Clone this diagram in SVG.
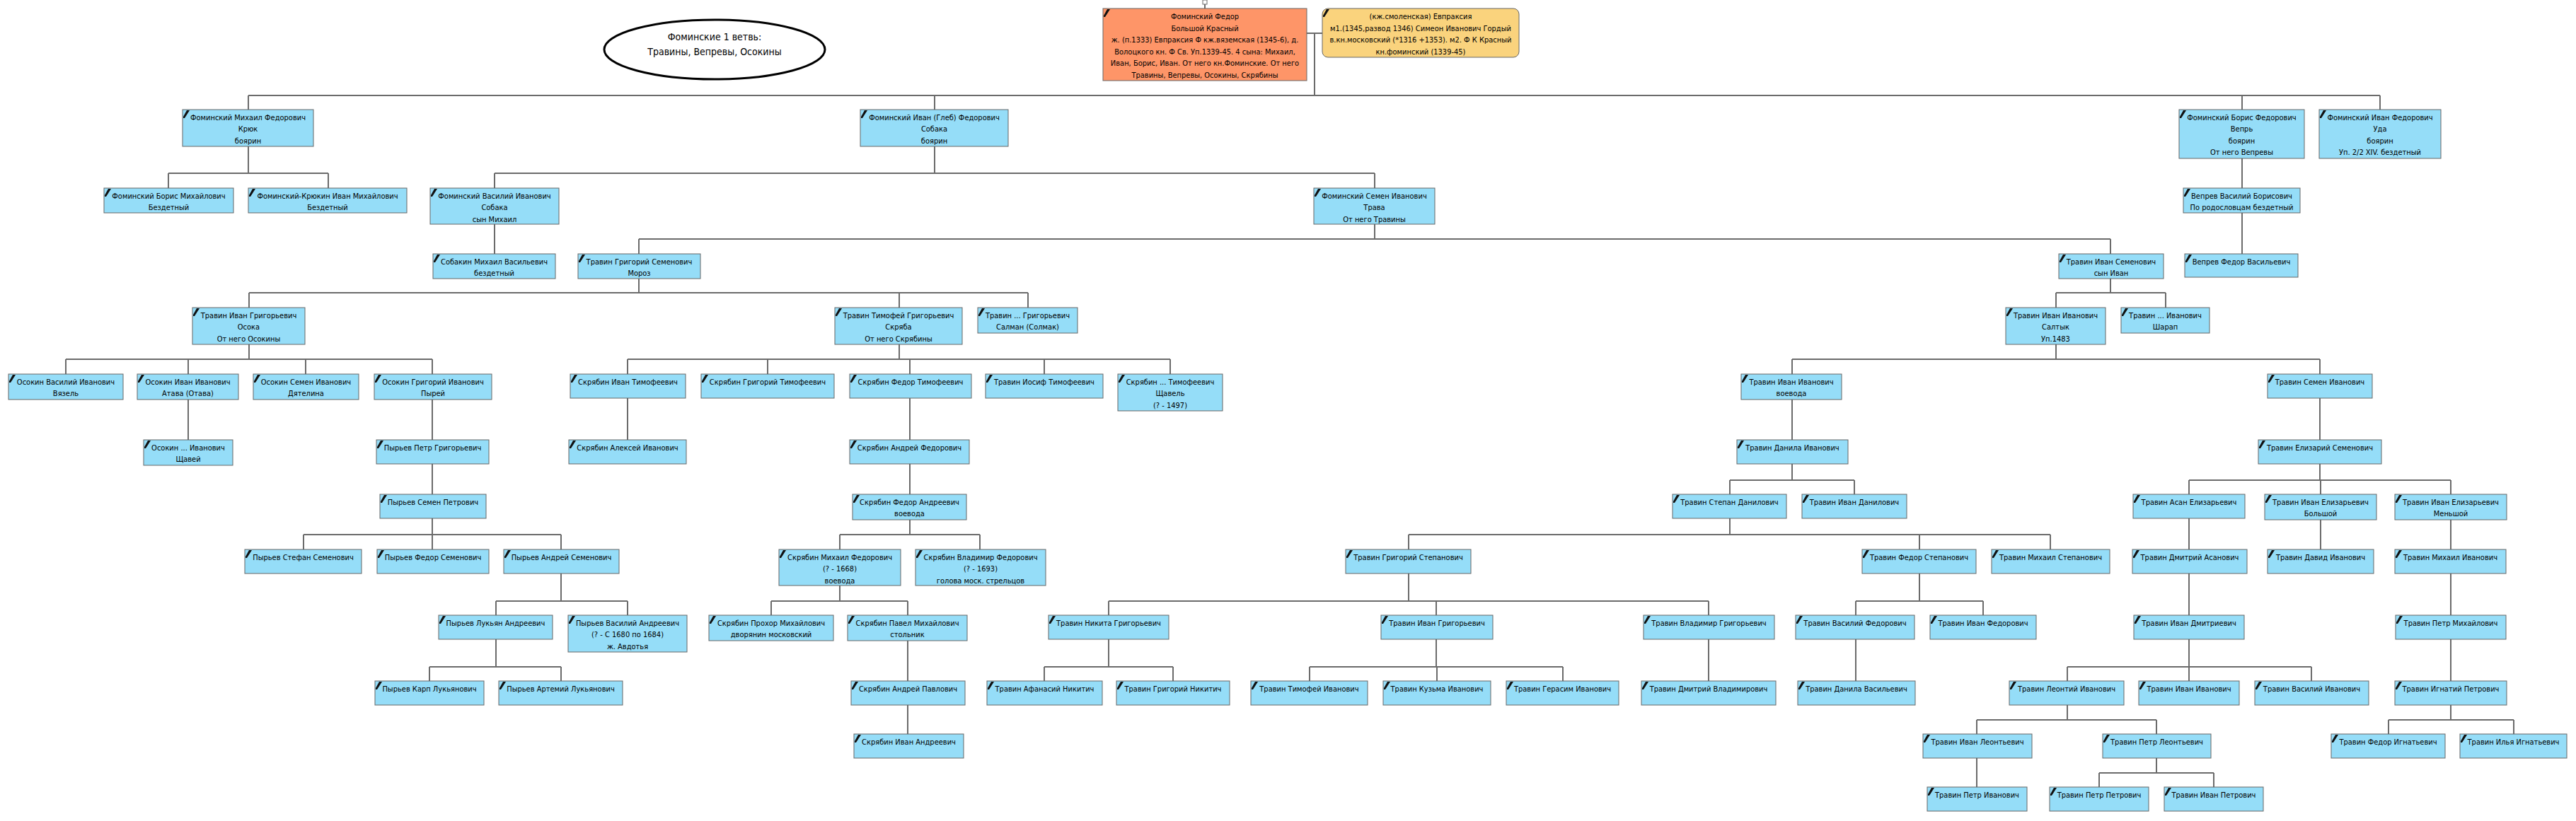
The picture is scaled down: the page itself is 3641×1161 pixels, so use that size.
<svg xmlns="http://www.w3.org/2000/svg" xmlns:xlink="http://www.w3.org/1999/xlink" width="3641" height="1161" viewBox="0 0 3641 1161">
<style>
.n rect{fill:#95DDF8;stroke:#666;stroke-width:1}
.n text,.e text{font-family:"DejaVu Sans Condensed","DejaVu Sans","Liberation Sans",sans-serif;font-stretch:condensed;font-size:11px;text-anchor:middle;fill:#000}
.e text{font-size:14px}
#root rect{fill:#FE9568}
#spouse rect{fill:#FAD37D}
#connectors path{fill:none;stroke:#6b6b6b;stroke-width:2}
</style>
<defs>
<path id="m" d="M6,1 L10,1 L3,12 L1,12 L1,10 Z" fill="#111"/>
</defs>
<rect width="3641" height="1161" fill="#fff"/>
<g class="e" id="title">
<ellipse cx="1010" cy="70" rx="156" ry="42" fill="#fff" stroke="#000" stroke-width="3"/>
<text x="1010" y="57">Фоминские 1 ветвь:<tspan x="1010" dy="21">Травины, Вепревы, Осокины</tspan></text>
</g>
<g id="connectors">
<rect x="1700" y="0" width="6" height="6" fill="#fff" stroke="#6b6b6b" stroke-width="1"/>
<path d="M1703,6 V12"/>
<path d="M1847,47 H1869 M1858,47 V135 M351,135 H3364 M351,135 V155 M1321,135 V155 M3169,135 V155 M3364,135 V155"/>
<path d="M351,207 V245 M238,245 H464 M238,245 V266 M464,245 V266"/>
<path d="M1321,207 V245 M699,245 H1943 M699,245 V266 M1943,245 V266"/>
<path d="M3169,224 V266"/>
<path d="M699,317 V359"/>
<path d="M1943,317 V338 M903,338 H2983 M903,338 V359 M2983,338 V359"/>
<path d="M3169,301 V359"/>
<path d="M903,394 V414 M352,414 H1453 M352,414 V435 M1271,414 V435 M1453,414 V435"/>
<path d="M2983,394 V414 M2906,414 H3061 M2906,414 V435 M3061,414 V435"/>
<path d="M352,487 V508 M93,508 H611 M93,508 V529 M266,508 V529 M432,508 V529 M611,508 V529"/>
<path d="M1271,487 V508 M887,508 H1654 M887,508 V529 M1085,508 V529 M1286,508 V529 M1476,508 V529 M1654,508 V529"/>
<path d="M2906,487 V508 M2533,508 H3279 M2533,508 V529 M3279,508 V529"/>
<path d="M266,565 V622 M611,565 V622 M887,563 V622 M1286,563 V622 M2533,565 V622 M3279,563 V622"/>
<path d="M611,656 V699 M1286,656 V699"/>
<path d="M2533,656 V679 M2445,679 H2621 M2445,679 V699 M2621,679 V699"/>
<path d="M3279,656 V679 M3094,679 H3464 M3094,679 V699 M3280,679 V699 M3464,679 V699"/>
<path d="M611,733 V756 M429,756 H793 M429,756 V777 M611,756 V777 M793,756 V777"/>
<path d="M1286,735 V756 M1187,756 H1385 M1187,756 V777 M1385,756 V777"/>
<path d="M2445,733 V756 M1991,756 H2898 M1991,756 V777 M2713,756 V777 M2898,756 V777"/>
<path d="M3094,733 V777 M3280,735 V777 M3464,735 V777"/>
<path d="M793,811 V850 M701,850 H887 M701,850 V870 M887,850 V870"/>
<path d="M1187,828 V850 M1090,850 H1283 M1090,850 V870 M1283,850 V870"/>
<path d="M1991,811 V850 M1567,850 H2415 M1567,850 V870 M2030,850 V870 M2415,850 V870"/>
<path d="M2713,811 V850 M2623,850 H2803 M2623,850 V870 M2803,850 V870"/>
<path d="M3094,811 V870 M3464,811 V870"/>
<path d="M701,904 V943 M607,943 H793 M607,943 V963 M793,943 V963"/>
<path d="M1283,906 V963"/>
<path d="M1567,904 V943 M1476,943 H1658 M1476,943 V963 M1658,943 V963"/>
<path d="M2030,904 V943 M1851,943 H2209 M1851,943 V963 M2031,943 V963 M2209,943 V963"/>
<path d="M2415,904 V963 M2623,904 V963"/>
<path d="M3094,904 V943 M2922,943 H3267 M2922,943 V963 M3094,943 V963 M3267,943 V963"/>
<path d="M3464,904 V963"/>
<path d="M1283,997 V1038"/>
<path d="M2922,997 V1018 M2794,1018 H3048 M2794,1018 V1038 M3048,1018 V1038"/>
<path d="M3464,997 V1018 M3376,1018 H3553 M3376,1018 V1038 M3553,1018 V1038"/>
<path d="M2794,1072 V1113"/>
<path d="M3048,1072 V1093 M2967,1093 H3129 M2967,1093 V1113 M3129,1093 V1113"/>
</g>
<g id="root" class="n" transform="translate(1559,12)"><rect width="288" height="102"/><use href="#m"/><text x="144" y="15">Фоминский Федор<tspan x="144" dy="16.5">Большой Красный</tspan><tspan x="144" dy="16.5">ж. (п.1333) Евпраксия Ф кж.вяземская (1345-6), д.</tspan><tspan x="144" dy="16.5">Волоцкого кн. Ф Св. Уп.1339-45. 4 сына: Михаил,</tspan><tspan x="144" dy="16.5">Иван, Борис, Иван. От него кн.Фоминские. От него</tspan><tspan x="144" dy="16.5">Травины, Вепревы, Осокины, Скрябины</tspan></text></g>
<g id="spouse" class="n" transform="translate(1869,12)"><rect width="278" height="69" rx="8"/><use href="#m"/><text x="139" y="15">(кж.смоленская) Евпраксия<tspan x="139" dy="16.5">м1.(1345,развод 1346) Симеон Иванович Гордый</tspan><tspan x="139" dy="16.5">в.кн.московский (*1316 +1353). м2. Ф К Красный</tspan><tspan x="139" dy="16.5">кн.фоминский (1339-45)</tspan></text></g>
<g id="n03" class="n" transform="translate(258,155)"><rect width="185" height="52"/><use href="#m"/><text x="92.5" y="14.5">Фоминский Михаил Федорович<tspan x="92.5" dy="16.5">Крюк</tspan><tspan x="92.5" dy="16.5">боярин</tspan></text></g>
<g id="n04" class="n" transform="translate(1216,155)"><rect width="209" height="52"/><use href="#m"/><text x="104.5" y="14.5">Фоминский Иван (Глеб) Федорович<tspan x="104.5" dy="16.5">Собака</tspan><tspan x="104.5" dy="16.5">боярин</tspan></text></g>
<g id="n05" class="n" transform="translate(3080,155)"><rect width="177" height="69"/><use href="#m"/><text x="88.5" y="14.5">Фоминский Борис Федорович<tspan x="88.5" dy="16.5">Вепрь</tspan><tspan x="88.5" dy="16.5">боярин</tspan><tspan x="88.5" dy="16.5">От него Вепревы</tspan></text></g>
<g id="n06" class="n" transform="translate(3278,155)"><rect width="172" height="69"/><use href="#m"/><text x="86" y="14.5">Фоминский Иван Федорович<tspan x="86" dy="16.5">Уда</tspan><tspan x="86" dy="16.5">боярин</tspan><tspan x="86" dy="16.5">Уп. 2/2 XIV. бездетный</tspan></text></g>
<g id="n07" class="n" transform="translate(147,266)"><rect width="183" height="35"/><use href="#m"/><text x="91.5" y="14.5">Фоминский Борис Михайлович<tspan x="91.5" dy="16.5">Бездетный</tspan></text></g>
<g id="n08" class="n" transform="translate(351,266)"><rect width="224" height="35"/><use href="#m"/><text x="112" y="14.5">Фоминский-Крюкин Иван Михайлович<tspan x="112" dy="16.5">Бездетный</tspan></text></g>
<g id="n09" class="n" transform="translate(608,266)"><rect width="182" height="51"/><use href="#m"/><text x="91" y="14.5">Фоминский Василий Иванович<tspan x="91" dy="16.5">Собака</tspan><tspan x="91" dy="16.5">сын Михаил</tspan></text></g>
<g id="n10" class="n" transform="translate(1857,266)"><rect width="171" height="51"/><use href="#m"/><text x="85.5" y="14.5">Фоминский Семен Иванович<tspan x="85.5" dy="16.5">Трава</tspan><tspan x="85.5" dy="16.5">От него Травины</tspan></text></g>
<g id="n11" class="n" transform="translate(3086,266)"><rect width="165" height="35"/><use href="#m"/><text x="82.5" y="14.5">Вепрев Василий Борисович<tspan x="82.5" dy="16.5">По родословцам бездетный</tspan></text></g>
<g id="n12" class="n" transform="translate(612,359)"><rect width="173" height="35"/><use href="#m"/><text x="86.5" y="14.5">Собакин Михаил Васильевич<tspan x="86.5" dy="16.5">бездетный</tspan></text></g>
<g id="n13" class="n" transform="translate(817,359)"><rect width="173" height="35"/><use href="#m"/><text x="86.5" y="14.5">Травин Григорий Семенович<tspan x="86.5" dy="16.5">Мороз</tspan></text></g>
<g id="n14" class="n" transform="translate(2910,359)"><rect width="148" height="35"/><use href="#m"/><text x="74" y="14.5">Травин Иван Семенович<tspan x="74" dy="16.5">сын Иван</tspan></text></g>
<g id="n15" class="n" transform="translate(3088,359)"><rect width="160" height="33"/><use href="#m"/><text x="80" y="14.5">Вепрев Федор Васильевич</text></g>
<g id="n16" class="n" transform="translate(272,435)"><rect width="159" height="52"/><use href="#m"/><text x="79.5" y="14.5">Травин Иван Григорьевич<tspan x="79.5" dy="16.5">Осока</tspan><tspan x="79.5" dy="16.5">От него Осокины</tspan></text></g>
<g id="n17" class="n" transform="translate(1180,435)"><rect width="180" height="52"/><use href="#m"/><text x="90" y="14.5">Травин Тимофей Григорьевич<tspan x="90" dy="16.5">Скряба</tspan><tspan x="90" dy="16.5">От него Скрябины</tspan></text></g>
<g id="n18" class="n" transform="translate(1382,435)"><rect width="141" height="36"/><use href="#m"/><text x="70.5" y="14.5">Травин ... Григорьевич<tspan x="70.5" dy="16.5">Салман (Солмак)</tspan></text></g>
<g id="n19" class="n" transform="translate(2835,435)"><rect width="141" height="52"/><use href="#m"/><text x="70.5" y="14.5">Травин Иван Иванович<tspan x="70.5" dy="16.5">Салтык</tspan><tspan x="70.5" dy="16.5">Уп.1483</tspan></text></g>
<g id="n20" class="n" transform="translate(2998,435)"><rect width="125" height="36"/><use href="#m"/><text x="62.5" y="14.5">Травин ... Иванович<tspan x="62.5" dy="16.5">Шарап</tspan></text></g>
<g id="n21" class="n" transform="translate(12,529)"><rect width="162" height="36"/><use href="#m"/><text x="81" y="14.5">Осокин Василий Иванович<tspan x="81" dy="16.5">Вязель</tspan></text></g>
<g id="n22" class="n" transform="translate(194,529)"><rect width="143" height="36"/><use href="#m"/><text x="71.5" y="14.5">Осокин Иван Иванович<tspan x="71.5" dy="16.5">Атава (Отава)</tspan></text></g>
<g id="n23" class="n" transform="translate(358,529)"><rect width="149" height="36"/><use href="#m"/><text x="74.5" y="14.5">Осокин Семен Иванович<tspan x="74.5" dy="16.5">Дятелина</tspan></text></g>
<g id="n24" class="n" transform="translate(529,529)"><rect width="166" height="36"/><use href="#m"/><text x="83" y="14.5">Осокин Григорий Иванович<tspan x="83" dy="16.5">Пырей</tspan></text></g>
<g id="n25" class="n" transform="translate(806,529)"><rect width="163" height="34"/><use href="#m"/><text x="81.5" y="14.5">Скрябин Иван Тимофеевич</text></g>
<g id="n26" class="n" transform="translate(991,529)"><rect width="188" height="34"/><use href="#m"/><text x="94" y="14.5">Скрябин Григорий Тимофеевич</text></g>
<g id="n27" class="n" transform="translate(1201,529)"><rect width="172" height="34"/><use href="#m"/><text x="86" y="14.5">Скрябин Федор Тимофеевич</text></g>
<g id="n28" class="n" transform="translate(1393,529)"><rect width="166" height="34"/><use href="#m"/><text x="83" y="14.5">Травин Иосиф Тимофеевич</text></g>
<g id="n29" class="n" transform="translate(1580,529)"><rect width="148" height="52"/><use href="#m"/><text x="74" y="14.5">Скрябин ... Тимофеевич<tspan x="74" dy="16.5">Щавель</tspan><tspan x="74" dy="16.5">(? - 1497)</tspan></text></g>
<g id="n30" class="n" transform="translate(2461,529)"><rect width="142" height="36"/><use href="#m"/><text x="71" y="14.5">Травин Иван Иванович<tspan x="71" dy="16.5">воевода</tspan></text></g>
<g id="n31" class="n" transform="translate(3205,529)"><rect width="148" height="34"/><use href="#m"/><text x="74" y="14.5">Травин Семен Иванович</text></g>
<g id="n32" class="n" transform="translate(203,622)"><rect width="126" height="36"/><use href="#m"/><text x="63" y="14.5">Осокин ... Иванович<tspan x="63" dy="16.5">Щавей</tspan></text></g>
<g id="n33" class="n" transform="translate(532,622)"><rect width="159" height="34"/><use href="#m"/><text x="79.5" y="14.5">Пырьев Петр Григорьевич</text></g>
<g id="n34" class="n" transform="translate(804,622)"><rect width="166" height="34"/><use href="#m"/><text x="83" y="14.5">Скрябин Алексей Иванович</text></g>
<g id="n35" class="n" transform="translate(1201,622)"><rect width="169" height="34"/><use href="#m"/><text x="84.5" y="14.5">Скрябин Андрей Федорович</text></g>
<g id="n36" class="n" transform="translate(2455,622)"><rect width="157" height="34"/><use href="#m"/><text x="78.5" y="14.5">Травин Данила Иванович</text></g>
<g id="n37" class="n" transform="translate(3192,622)"><rect width="174" height="34"/><use href="#m"/><text x="87" y="14.5">Травин Елизарий Семенович</text></g>
<g id="n38" class="n" transform="translate(537,699)"><rect width="150" height="34"/><use href="#m"/><text x="75" y="14.5">Пырьев Семен Петрович</text></g>
<g id="n39" class="n" transform="translate(1205,699)"><rect width="161" height="36"/><use href="#m"/><text x="80.5" y="14.5">Скрябин Федор Андреевич<tspan x="80.5" dy="16.5">воевода</tspan></text></g>
<g id="n40" class="n" transform="translate(2364,699)"><rect width="161" height="34"/><use href="#m"/><text x="80.5" y="14.5">Травин Степан Данилович</text></g>
<g id="n41" class="n" transform="translate(2547,699)"><rect width="148" height="34"/><use href="#m"/><text x="74" y="14.5">Травин Иван Данилович</text></g>
<g id="n42" class="n" transform="translate(3015,699)"><rect width="158" height="34"/><use href="#m"/><text x="79" y="14.5">Травин Асан Елизарьевич</text></g>
<g id="n43" class="n" transform="translate(3201,699)"><rect width="158" height="36"/><use href="#m"/><text x="79" y="14.5">Травин Иван Елизарьевич<tspan x="79" dy="16.5">Большой</tspan></text></g>
<g id="n44" class="n" transform="translate(3385,699)"><rect width="158" height="36"/><use href="#m"/><text x="79" y="14.5">Травин Иван Елизарьевич<tspan x="79" dy="16.5">Меньшой</tspan></text></g>
<g id="n45" class="n" transform="translate(346,777)"><rect width="165" height="34"/><use href="#m"/><text x="82.5" y="14.5">Пырьев Стефан Семенович</text></g>
<g id="n46" class="n" transform="translate(533,777)"><rect width="158" height="34"/><use href="#m"/><text x="79" y="14.5">Пырьев Федор Семенович</text></g>
<g id="n47" class="n" transform="translate(712,777)"><rect width="163" height="34"/><use href="#m"/><text x="81.5" y="14.5">Пырьев Андрей Семенович</text></g>
<g id="n48" class="n" transform="translate(1101,777)"><rect width="172" height="51"/><use href="#m"/><text x="86" y="14.5">Скрябин Михаил Федорович<tspan x="86" dy="16.5">(? - 1668)</tspan><tspan x="86" dy="16.5">воевода</tspan></text></g>
<g id="n49" class="n" transform="translate(1294,777)"><rect width="184" height="51"/><use href="#m"/><text x="92" y="14.5">Скрябин Владимир Федорович<tspan x="92" dy="16.5">(? - 1693)</tspan><tspan x="92" dy="16.5">голова моск. стрельцов</tspan></text></g>
<g id="n50" class="n" transform="translate(1902,777)"><rect width="177" height="34"/><use href="#m"/><text x="88.5" y="14.5">Травин Григорий Степанович</text></g>
<g id="n51" class="n" transform="translate(2632,777)"><rect width="161" height="34"/><use href="#m"/><text x="80.5" y="14.5">Травин Федор Степанович</text></g>
<g id="n52" class="n" transform="translate(2815,777)"><rect width="167" height="34"/><use href="#m"/><text x="83.5" y="14.5">Травин Михаил Степанович</text></g>
<g id="n53" class="n" transform="translate(3014,777)"><rect width="162" height="34"/><use href="#m"/><text x="81" y="14.5">Травин Дмитрий Асанович</text></g>
<g id="n54" class="n" transform="translate(3205,777)"><rect width="150" height="34"/><use href="#m"/><text x="75" y="14.5">Травин Давид Иванович</text></g>
<g id="n55" class="n" transform="translate(3385,777)"><rect width="157" height="34"/><use href="#m"/><text x="78.5" y="14.5">Травин Михаил Иванович</text></g>
<g id="n56" class="n" transform="translate(620,870)"><rect width="161" height="34"/><use href="#m"/><text x="80.5" y="14.5">Пырьев Лукьян Андреевич</text></g>
<g id="n57" class="n" transform="translate(803,870)"><rect width="168" height="52"/><use href="#m"/><text x="84" y="14.5">Пырьев Василий Андреевич<tspan x="84" dy="16.5">(? - С 1680 по 1684)</tspan><tspan x="84" dy="16.5">ж. Авдотья</tspan></text></g>
<g id="n58" class="n" transform="translate(1002,870)"><rect width="176" height="36"/><use href="#m"/><text x="88" y="14.5">Скрябин Прохор Михайлович<tspan x="88" dy="16.5">дворянин московский</tspan></text></g>
<g id="n59" class="n" transform="translate(1198,870)"><rect width="169" height="36"/><use href="#m"/><text x="84.5" y="14.5">Скрябин Павел Михайлович<tspan x="84.5" dy="16.5">стольник</tspan></text></g>
<g id="n60" class="n" transform="translate(1482,870)"><rect width="170" height="34"/><use href="#m"/><text x="85" y="14.5">Травин Никита Григорьевич</text></g>
<g id="n61" class="n" transform="translate(1952,870)"><rect width="158" height="34"/><use href="#m"/><text x="79" y="14.5">Травин Иван Григорьевич</text></g>
<g id="n62" class="n" transform="translate(2323,870)"><rect width="185" height="34"/><use href="#m"/><text x="92.5" y="14.5">Травин Владимир Григорьевич</text></g>
<g id="n63" class="n" transform="translate(2538,870)"><rect width="168" height="34"/><use href="#m"/><text x="84" y="14.5">Травин Василий Федорович</text></g>
<g id="n64" class="n" transform="translate(2728,870)"><rect width="150" height="34"/><use href="#m"/><text x="75" y="14.5">Травин Иван Федорович</text></g>
<g id="n65" class="n" transform="translate(3016,870)"><rect width="156" height="34"/><use href="#m"/><text x="78" y="14.5">Травин Иван Дмитриевич</text></g>
<g id="n66" class="n" transform="translate(3386,870)"><rect width="156" height="34"/><use href="#m"/><text x="78" y="14.5">Травин Петр Михайлович</text></g>
<g id="n67" class="n" transform="translate(530,963)"><rect width="154" height="34"/><use href="#m"/><text x="77" y="14.5">Пырьев Карп Лукьянович</text></g>
<g id="n68" class="n" transform="translate(705,963)"><rect width="175" height="34"/><use href="#m"/><text x="87.5" y="14.5">Пырьев Артемий Лукьянович</text></g>
<g id="n69" class="n" transform="translate(1203,963)"><rect width="161" height="34"/><use href="#m"/><text x="80.5" y="14.5">Скрябин Андрей Павлович</text></g>
<g id="n70" class="n" transform="translate(1395,963)"><rect width="163" height="34"/><use href="#m"/><text x="81.5" y="14.5">Травин Афанасий Никитич</text></g>
<g id="n71" class="n" transform="translate(1578,963)"><rect width="160" height="34"/><use href="#m"/><text x="80" y="14.5">Травин Григорий Никитич</text></g>
<g id="n72" class="n" transform="translate(1768,963)"><rect width="165" height="34"/><use href="#m"/><text x="82.5" y="14.5">Травин Тимофей Иванович</text></g>
<g id="n73" class="n" transform="translate(1955,963)"><rect width="152" height="34"/><use href="#m"/><text x="76" y="14.5">Травин Кузьма Иванович</text></g>
<g id="n74" class="n" transform="translate(2129,963)"><rect width="159" height="34"/><use href="#m"/><text x="79.5" y="14.5">Травин Герасим Иванович</text></g>
<g id="n75" class="n" transform="translate(2320,963)"><rect width="190" height="34"/><use href="#m"/><text x="95" y="14.5">Травин Дмитрий Владимирович</text></g>
<g id="n76" class="n" transform="translate(2541,963)"><rect width="166" height="34"/><use href="#m"/><text x="83" y="14.5">Травин Данила Васильевич</text></g>
<g id="n77" class="n" transform="translate(2840,963)"><rect width="162" height="34"/><use href="#m"/><text x="81" y="14.5">Травин Леонтий Иванович</text></g>
<g id="n78" class="n" transform="translate(3023,963)"><rect width="142" height="34"/><use href="#m"/><text x="71" y="14.5">Травин Иван Иванович</text></g>
<g id="n79" class="n" transform="translate(3187,963)"><rect width="161" height="34"/><use href="#m"/><text x="80.5" y="14.5">Травин Василий Иванович</text></g>
<g id="n80" class="n" transform="translate(3385,963)"><rect width="158" height="34"/><use href="#m"/><text x="79" y="14.5">Травин Игнатий Петрович</text></g>
<g id="n81" class="n" transform="translate(1207,1038)"><rect width="155" height="34"/><use href="#m"/><text x="77.5" y="14.5">Скрябин Иван Андреевич</text></g>
<g id="n82" class="n" transform="translate(2718,1038)"><rect width="154" height="34"/><use href="#m"/><text x="77" y="14.5">Травин Иван Леонтьевич</text></g>
<g id="n83" class="n" transform="translate(2972,1038)"><rect width="153" height="34"/><use href="#m"/><text x="76.5" y="14.5">Травин Петр Леонтьевич</text></g>
<g id="n84" class="n" transform="translate(3295,1038)"><rect width="161" height="34"/><use href="#m"/><text x="80.5" y="14.5">Травин Федор Игнатьевич</text></g>
<g id="n85" class="n" transform="translate(3477,1038)"><rect width="151" height="34"/><use href="#m"/><text x="75.5" y="14.5">Травин Илья Игнатьевич</text></g>
<g id="n86" class="n" transform="translate(2724,1113)"><rect width="141" height="34"/><use href="#m"/><text x="70.5" y="14.5">Травин Петр Иванович</text></g>
<g id="n87" class="n" transform="translate(2897,1113)"><rect width="140" height="34"/><use href="#m"/><text x="70" y="14.5">Травин Петр Петрович</text></g>
<g id="n88" class="n" transform="translate(3059,1113)"><rect width="140" height="34"/><use href="#m"/><text x="70" y="14.5">Травин Иван Петрович</text></g>
</svg>
